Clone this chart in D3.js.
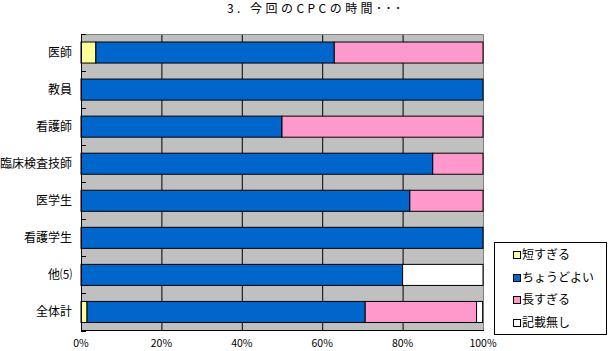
<!DOCTYPE html>
<html>
<head>
<meta charset="utf-8">
<script src="https://cdn.jsdelivr.net/npm/d3@7"></script>
<style>
  body { margin: 0; background: #fff; }
  svg { display: block; }
</style>
</head>
<body>
<div id="chart"></div>
<script>
const width = 609, height = 351;

const categories = ["医師", "教員", "看護師", "臨床検査技師", "医学生", "看護学生", "他⑸", "全体計"];
const seriesNames = ["短すぎる", "ちょうどよい", "長すぎる", "記載無し"];
const shortVals = [3.7, 0, 0, 0, 0, 0, 0, 1.5];
const justVals  = [59.3, 100, 50, 87.5, 81.8, 100, 80, 69.2];
const longVals  = [37.0, 0, 50, 12.5, 18.2, 0, 0, 27.7];
const noneVals  = [0, 0, 0, 0, 0, 0, 20, 1.5];
const xTicks = [0, 20, 40, 60, 80, 100];
const colors = ["#ffff99", "#0066cc", "#ff99cc", "#ffffff"];

const rows = categories.map((c, i) => ({
    cat: c,
    [seriesNames[0]]: shortVals[i],
    [seriesNames[1]]: justVals[i],
    [seriesNames[2]]: longVals[i],
    [seriesNames[3]]: noneVals[i]
}));

const font = "'Noto Sans CJK JP', 'Noto Sans', sans-serif";
const plotL = 81, plotR = 483, plotT = 34, plotB = 330.5;

const svg = d3.select("#chart").append("svg")
    .attr("width", width)
    .attr("height", height);

svg.append("rect").attr("width", width).attr("height", height).attr("fill", "#fff");

const x = d3.scaleLinear().domain([0, 100]).range([plotL, plotR]);
const y = d3.scaleBand().domain(categories).range([plotT, plotB])
    .paddingInner(0.432).paddingOuter(0.216);

// title
svg.append("text")
    .attr("x", 227).attr("y", 12.5)
    .attr("textLength", 174).attr("lengthAdjust", "spacing")
    .attr("font-family", font).attr("font-size", 12)
    .text("3. 今回のCPCの時間･･･");

// plot background
svg.append("rect")
    .attr("x", plotL).attr("y", plotT)
    .attr("width", plotR - plotL).attr("height", plotB - plotT)
    .attr("fill", "#c0c0c0");

// vertical gridlines
svg.selectAll(".grid").data(xTicks.slice(1, -1)).enter().append("line")
    .attr("x1", d => x(d) + 0.5).attr("x2", d => x(d) + 0.5)
    .attr("y1", plotT).attr("y2", plotB)
    .attr("stroke", "#000").attr("stroke-width", 1);

// top and right border
svg.append("path")
    .attr("d", `M${plotL},${plotT + 0.5}H${plotR + 0.5}V${plotB}`)
    .attr("fill", "none").attr("stroke", "#808080");

// bars
const stacked = d3.stack().keys(seriesNames)(rows);
stacked.forEach((s, si) => {
    svg.append("g").selectAll("rect").data(s.filter(d => d[1] - d[0] > 0)).enter().append("rect")
        .attr("x", d => x(d[0]))
        .attr("y", d => y(d.data.cat))
        .attr("width", d => x(d[1]) - x(d[0]))
        .attr("height", y.bandwidth())
        .attr("fill", colors[si])
        .attr("stroke", "#000").attr("stroke-width", 1);
});

// left axis with inner ticks at band boundaries
const step = y.step();
svg.selectAll(".ytick").data(d3.range(categories.length + 1)).enter().append("line")
    .attr("x1", plotL).attr("x2", plotL + 5)
    .attr("y1", i => Math.round(plotT + i * step) + 0.5).attr("y2", i => Math.round(plotT + i * step) + 0.5)
    .attr("stroke", "#000");
svg.append("line")
    .attr("x1", plotL + 0.5).attr("x2", plotL + 0.5)
    .attr("y1", plotT).attr("y2", plotB)
    .attr("stroke", "#000");
svg.append("line")
    .attr("x1", plotL).attr("x2", plotR + 1)
    .attr("y1", plotB).attr("y2", plotB)
    .attr("stroke", "#000");

// category labels
svg.selectAll(".ylabel").data(categories).enter().append("text")
    .attr("x", 72)
    .attr("y", d => y(d) + y.bandwidth() / 2)
    .attr("dy", "0.35em")
    .attr("text-anchor", "end")
    .attr("font-family", font).attr("font-size", 12)
    .text(d => d);

// x tick labels
svg.selectAll(".xlabel").data(xTicks).enter().append("text")
    .attr("x", d => x(d))
    .attr("y", 347)
    .attr("text-anchor", "middle")
    .attr("font-family", font).attr("font-size", 10.5)
    .text(d => d + "%");

// legend
const lg = svg.append("g");
lg.append("rect")
    .attr("x", 494.5).attr("y", 242.5)
    .attr("width", 112).attr("height", 92)
    .attr("fill", "#fff").attr("stroke", "#000");
const ly = [255, 278, 300, 323];
seriesNames.forEach((name, i) => {
    lg.append("rect")
        .attr("x", 513.5).attr("y", ly[i] - 3.5)
        .attr("width", 7).attr("height", 7)
        .attr("fill", colors[i]).attr("stroke", "#000");
    lg.append("text")
        .attr("x", 522).attr("y", ly[i])
        .attr("dy", "0.35em")
        .attr("font-family", font).attr("font-size", 12)
        .text(name);
});
</script>
</body>
</html>
